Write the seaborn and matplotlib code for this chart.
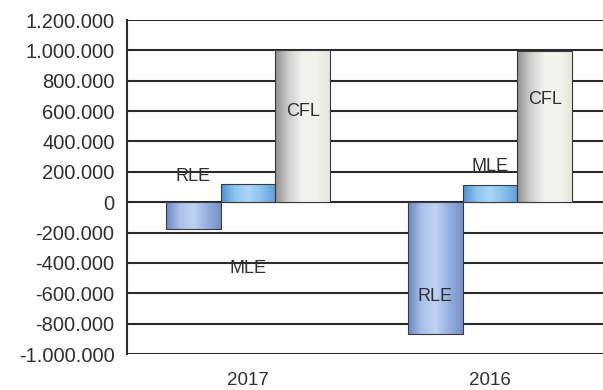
import numpy as np
import pandas as pd
import matplotlib
matplotlib.use("Agg")
import matplotlib.pyplot as plt
import seaborn as sns
from matplotlib.colors import LinearSegmentedColormap
from matplotlib.ticker import FuncFormatter, MultipleLocator

# Data
years = ["2017", "2016"]
series = ["RLE", "MLE", "CFL"]
rle = [-175000, -870000]
mle = [120000, 115000]
cfl = [1005000, 995000]

# Vertical anchor of each series-name label, per year
label_y = {
    "RLE": [170000, -620000],
    "MLE": [-435000, 235000],
    "CFL": [595000, 675000],
}

df = pd.DataFrame({
    "year": years * 3,
    "series": np.repeat(series, len(years)),
    "value": rle + mle + cfl,
})

sns.set_theme(style="white")
plt.rcParams["font.family"] = ["Liberation Sans", "DejaVu Sans"]

palette = {"RLE": "#93acd9", "MLE": "#8ec3ea", "CFL": "#e6e6e2"}
# Cylinder-like horizontal shading per series
shades = {
    "RLE": ["#6a86c0", "#a9c0e8", "#bfd2f2", "#96b0de", "#7390c8"],
    "MLE": ["#4f8fd0", "#8cc4ee", "#aad6f6", "#86bfea", "#5f9ed8"],
    "CFL": ["#8e8e8e", "#cfcfcc", "#f3f3ef", "#f4f4ee", "#e6e6de"],
}

fig = plt.figure(figsize=(6.03, 3.90), dpi=100)
ax = fig.add_axes([127 / 603, 1 - 354 / 390, 484 / 603, 334 / 390])

sns.barplot(
    data=df, x="year", y="value", hue="series",
    order=years, hue_order=series, palette=palette,
    width=0.68, gap=0, errorbar=None, legend=False,
    edgecolor="#3a3a3a", linewidth=0.8, ax=ax,
)

grad = np.linspace(0, 1, 256).reshape(1, -1)
for name, cont in zip(series, ax.containers):
    cmap = LinearSegmentedColormap.from_list(name, shades[name])
    for i, bar in enumerate(cont):
        bb = bar.get_bbox()
        im = ax.imshow(
            grad, cmap=cmap, aspect="auto", interpolation="bicubic",
            extent=[bb.x0, bb.x1, bb.y0, bb.y1], zorder=1.1,
        )
        im.set_clip_path(bar)
        bar.set_facecolor("none")
        bar.set_zorder(1.2)
        cx = bb.x0 + bb.width / 2
        ax.text(cx, label_y[name][i], name, ha="center", va="center",
                fontsize=13, color="#303030", zorder=3)

ax.set_xlim(-0.5, 1.5)
ax.set_ylim(-1000000, 1200000)
ax.yaxis.set_major_locator(MultipleLocator(200000))
ax.yaxis.set_major_formatter(
    FuncFormatter(lambda v, p: f"{v:,.0f}".replace(",", "."))
)

ax.grid(axis="y", color="#2b2b2b", linewidth=1.5)
ax.grid(axis="x", visible=False)
ax.set_axisbelow(True)

for side in ["top", "right", "bottom"]:
    ax.spines[side].set_visible(False)
ax.spines["left"].set_color("#2b2b2b")
ax.spines["left"].set_linewidth(1.5)

ax.tick_params(axis="y", length=7, width=1.3, color="#2b2b2b",
               direction="out", labelsize=14.5, labelcolor="#303030", pad=2)
ax.tick_params(axis="x", length=0, labelsize=13.5, labelcolor="#303030", pad=13)
ax.set_xlabel("")
ax.set_ylabel("")

fig.savefig("out.png", dpi=100, facecolor="white")
